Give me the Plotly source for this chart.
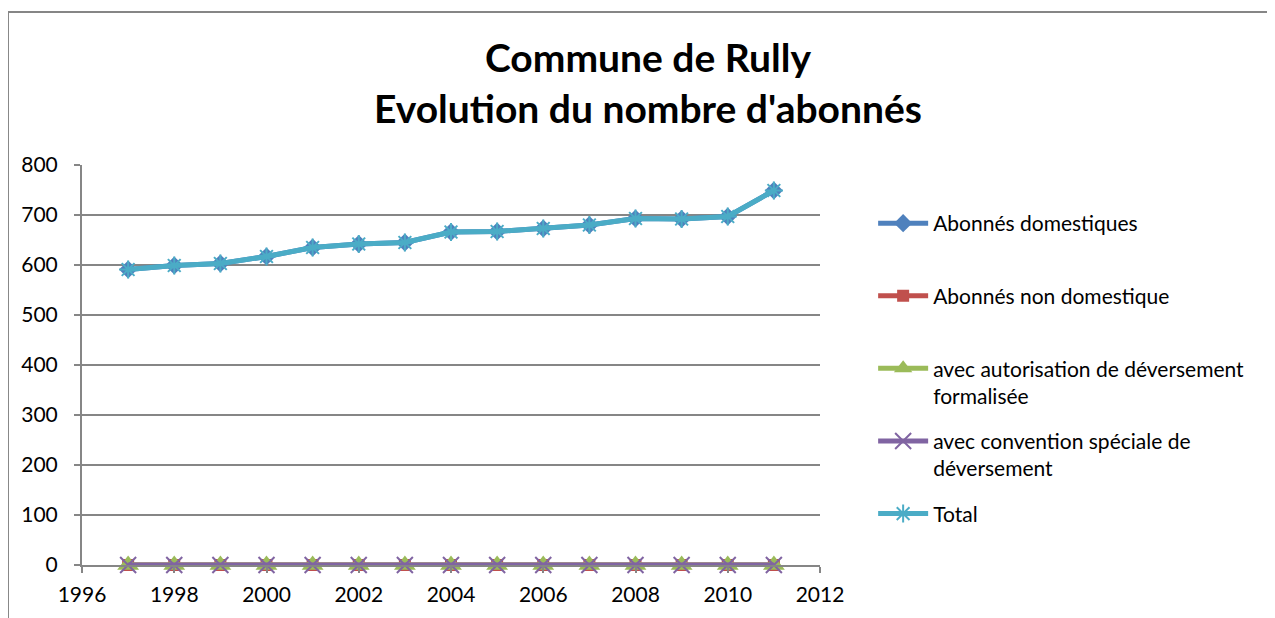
import plotly.graph_objects as go

years = list(range(1997, 2012))
total = [591, 599, 603, 617, 635, 642, 645, 666, 667, 673, 680, 693, 692, 697, 749]
domestiques = [591, 599, 603, 617, 635, 642, 645, 666, 667, 673, 680, 693, 692, 697, 749]
non_domestique = [0] * 15
autorisation = [0] * 15
convention = [0] * 15

names = [
    "Abonnés domestiques<br> ",
    "Abonnés non domestique<br> ",
    "avec autorisation de déversement<br>formalisée",
    "avec convention spéciale de<br>déversement",
    "Total<br> ",
]

FONT = "Lato"
fig = go.Figure()
fig.add_trace(go.Scatter(x=years, y=domestiques, name=names[0], mode="lines+markers",
                         line=dict(color="#4F81BD", width=5),
                         marker=dict(symbol="diamond", size=14, color="#4F81BD")))
fig.add_trace(go.Scatter(x=years, y=non_domestique, name=names[1], mode="lines+markers",
                         line=dict(color="#C0504D", width=5),
                         marker=dict(symbol="square", size=12, color="#C0504D")))
fig.add_trace(go.Scatter(x=years, y=autorisation, name=names[2], mode="lines+markers",
                         line=dict(color="#9BBB59", width=5),
                         marker=dict(symbol="triangle-up", size=19, color="#9BBB59",
                                     line=dict(width=0))))
fig.add_trace(go.Scatter(x=years, y=convention, name=names[3], mode="lines+markers",
                         line=dict(color="#8064A2", width=5),
                         marker=dict(symbol="x-thin-open", size=16, color="#8064A2",
                                     line=dict(color="#8064A2", width=2))))
fig.add_trace(go.Scatter(x=years, y=total, name=names[4], mode="lines+markers",
                         line=dict(color="#4BACC6", width=5),
                         marker=dict(symbol="asterisk-open", size=15, color="#4BACC6",
                                     line=dict(color="#4BACC6", width=2))))
fig.update_traces(cliponaxis=False)

fig.update_layout(
    width=1267, height=610,
    margin=dict(l=74, r=455, t=157, b=53),
    paper_bgcolor="white", plot_bgcolor="white",
    font=dict(family=FONT, size=21, color="black"),
    title=dict(text="<b>Commune de Rully<br>Evolution du nombre d'abonnés</b>",
               x=(648 - 8) / 1267, xanchor="center", y=1 - 64 / 610, yanchor="middle",
               font=dict(family=FONT, size=39, color="black")),
    xaxis=dict(range=[1996, 2012], dtick=2, tick0=1996, showgrid=False,
               showline=True, linecolor="#868686", linewidth=2,
               ticks="outside", ticklen=6, tickcolor="#868686", tickwidth=2,
               ticklabelstandoff=4,
               zeroline=False, tickfont=dict(size=21)),
    yaxis=dict(range=[0, 800], dtick=100, showgrid=True, gridcolor="#868686", gridwidth=2,
               showline=True, linecolor="#868686", linewidth=2,
               ticks="outside", ticklen=6, tickcolor="#868686", tickwidth=2,
               ticklabelstandoff=12,
               zeroline=False, tickfont=dict(size=21)),
    legend=dict(x=1.072, xanchor="left", y=0.905, yanchor="top",
                font=dict(family=FONT, size=21), valign="top",
                tracegroupgap=15, itemwidth=50),
    showlegend=True,
    shapes=[
        dict(type="line", xref="paper", yref="paper", x0=-0.1003, x1=1.63, y0=1.3825, y1=1.3825,
             line=dict(color="#868686", width=2)),
        dict(type="line", xref="paper", yref="paper", x0=-0.1003, x1=-0.1003, y0=1.3825, y1=-0.15,
             line=dict(color="#868686", width=2)),
    ],
)
for i, tr in enumerate(fig.data):
    tr.legendgroup = f"g{i}"

fig.write_html("out.html")
